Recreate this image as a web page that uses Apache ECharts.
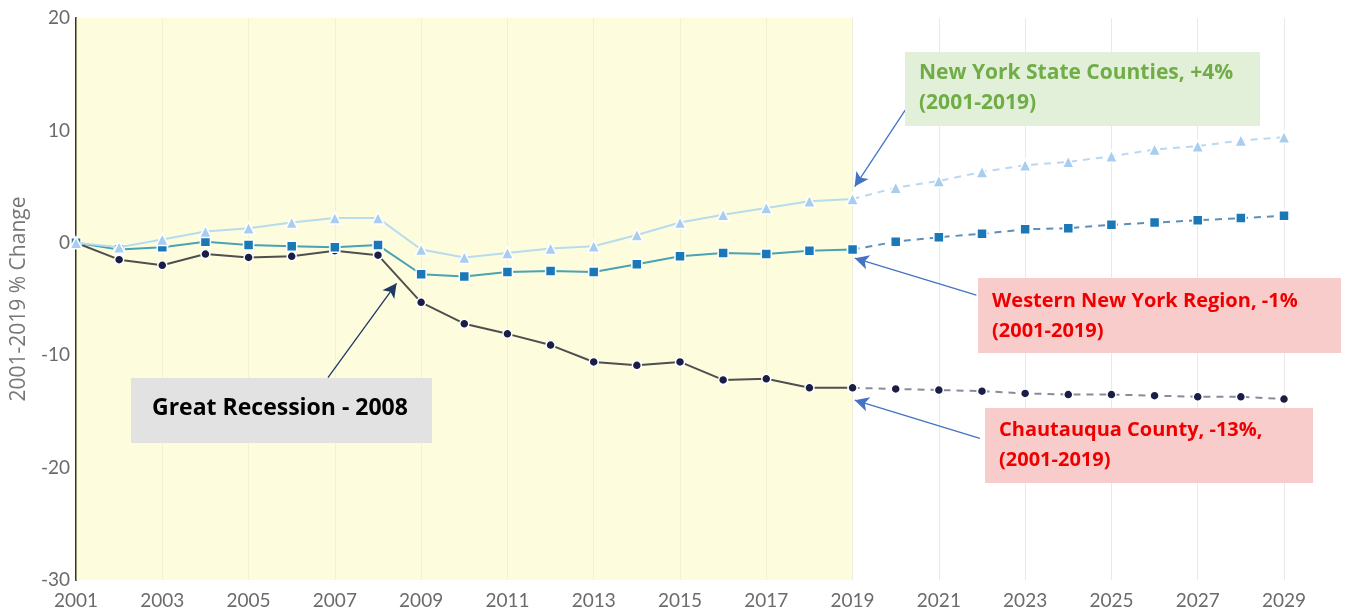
<!DOCTYPE html>
<html>
<head>
<meta charset="utf-8">
<script src="https://cdn.jsdelivr.net/npm/echarts@6/dist/echarts.min.js"></script>
<style>
    html, body {margin: 0; padding: 0; background: #fff;}
    #main {width: 1348px; height: 613px;}
</style>
</head>
<body>
<div id="main"></div>
<script>
    // years
    const histYears = [2001, 2002, 2003, 2004, 2005, 2006, 2007, 2008, 2009, 2010,
        2011, 2012, 2013, 2014, 2015, 2016, 2017, 2018, 2019];
    const projYears = [2020, 2021, 2022, 2023, 2024, 2025, 2026, 2027, 2028, 2029];

    // % change since 2001
    const chautauquaHist = [0, -1.5, -2.0, -1.0, -1.3, -1.2, -0.7, -1.1, -5.3, -7.2,
        -8.1, -9.1, -10.6, -10.9, -10.6, -12.2, -12.1, -12.9, -12.9];
    const chautauquaProj = [-13.0, -13.1, -13.2, -13.4, -13.5, -13.5, -13.6, -13.7, -13.7, -13.9];

    const wnyHist = [0, -0.6, -0.4, 0.1, -0.2, -0.3, -0.4, -0.2, -2.8, -3.0,
        -2.6, -2.5, -2.6, -1.9, -1.2, -0.9, -1.0, -0.7, -0.6];
    const wnyProj = [0.1, 0.5, 0.8, 1.2, 1.3, 1.6, 1.8, 2.0, 2.2, 2.4];

    const nysHist = [0, -0.4, 0.3, 1.0, 1.3, 1.8, 2.2, 2.2, -0.6, -1.3,
        -0.9, -0.5, -0.3, 0.7, 1.8, 2.5, 3.1, 3.7, 3.9];
    const nysProj = [4.9, 5.5, 6.3, 6.9, 7.2, 7.7, 8.3, 8.6, 9.1, 9.4];

    const pairs = (xs, ys) => xs.map((x, i) => [x, ys[i]]);
    // projection line starts from the last actual point
    const proj = (hx, hy, px, py) => [[hx[hx.length - 1], hy[hy.length - 1]]].concat(pairs(px, py));

    const chart = echarts.init(document.getElementById('main'));
    const axisFont = 'Lato, sans-serif';
    const noteFont = '"Open Sans", sans-serif';

    const arrow = (from, to, color) => [
        {coord: from, symbol: 'none', lineStyle: {color: color, width: 1.3, type: 'solid'}},
        {coord: to, symbol: 'arrow'}
    ];

    const note = (left, top, w, h, fill, color, text, size, pad) => ({
        type: 'group',
        left: left,
        top: top,
        z: 100,
        children: [
            {type: 'rect', z: 100, shape: {x: 0, y: 0, width: w, height: h}, style: {fill: fill}},
            {
                type: 'text', z: 101, x: pad[0], y: pad[1],
                style: {
                    text: text, fill: color, fontFamily: noteFont, fontWeight: 'bold',
                    fontSize: size, lineHeight: 30
                }
            }
        ]
    });

    const option = {
        animation: false,
        grid: {left: 76, right: 64, top: 18, bottom: 33, outerBoundsMode: 'none'},
        xAxis: {
            type: 'value',
            min: 2001,
            max: 2029,
            interval: 2,
            axisLine: {show: false},
            axisTick: {show: false},
            axisLabel: {
                color: '#6b6b6b', fontFamily: axisFont, fontSize: 19, margin: 11,
                formatter: v => String(v)
            },
            splitLine: {show: true, lineStyle: {color: '#e9e9e9', width: 1}}
        },
        yAxis: {
            type: 'value',
            min: -30,
            max: 20,
            interval: 10,
            name: '2001-2019 % Change',
            nameLocation: 'middle',
            nameGap: 46,
            nameTextStyle: {color: '#777', fontFamily: '"Open Sans", sans-serif', fontSize: 21},
            axisLine: {show: true, lineStyle: {color: '#333', width: 2}},
            axisTick: {show: false},
            axisLabel: {color: '#6b6b6b', fontFamily: axisFont, fontSize: 19, margin: 6},
            splitLine: {show: false}
        },
        series: [
            {
                name: 'band',
                type: 'line',
                data: [],
                silent: true,
                markArea: {
                    silent: true,
                    itemStyle: {color: 'rgba(252,252,190,0.5)'},
                    data: [[{xAxis: 2001}, {xAxis: 2019}]]
                },
                markLine: {
                    silent: true,
                    symbolSize: [11, 14],
                    label: {show: false},
                    data: [
                        arrow([2006.84, -12.0], [2008.43, -3.6], '#1f3864'),
                        arrow([2020.22, 11.8], [2019.05, 5.0], '#4472c4'),
                        arrow([2021.87, -4.65], [2019.05, -1.37], '#4472c4'),
                        arrow([2021.95, -17.4], [2019.05, -14.0], '#4472c4')
                    ]
                }
            },
            {
                name: 'Chautauqua County',
                type: 'line',
                data: pairs(histYears, chautauquaHist),
                symbol: 'circle', symbolSize: 9,
                lineStyle: {color: '#4f4f4f', width: 2},
                itemStyle: {color: '#1a1d45', borderColor: '#fff', borderWidth: 1.5},
                z: 3
            },
            {
                name: 'Chautauqua County proj',
                type: 'line',
                data: proj(histYears, chautauquaHist, projYears, chautauquaProj),
                symbol: 'circle', symbolSize: 9,
                lineStyle: {color: '#8a8a9a', width: 2, type: [7, 6]},
                itemStyle: {color: '#1a1d45', borderColor: '#fff', borderWidth: 1.5},
                z: 3
            },
            {
                name: 'Western New York Region',
                type: 'line',
                data: pairs(histYears, wnyHist),
                symbol: 'rect', symbolSize: 10,
                lineStyle: {color: '#4aa2b3', width: 2},
                itemStyle: {color: '#1b78b6', borderColor: '#fff', borderWidth: 1.5},
                z: 4
            },
            {
                name: 'Western New York Region proj',
                type: 'line',
                data: proj(histYears, wnyHist, projYears, wnyProj),
                symbol: 'rect', symbolSize: 10,
                lineStyle: {color: '#5d8fb8', width: 2, type: [7, 6]},
                itemStyle: {color: '#1b78b6', borderColor: '#fff', borderWidth: 1.5},
                z: 4
            },
            {
                name: 'New York State Counties',
                type: 'line',
                data: pairs(histYears, nysHist),
                symbol: 'triangle', symbolSize: 12,
                lineStyle: {color: '#b7dcee', width: 2},
                itemStyle: {color: '#a8cdef', borderColor: '#fff', borderWidth: 1.5},
                z: 5
            },
            {
                name: 'New York State Counties proj',
                type: 'line',
                data: proj(histYears, nysHist, projYears, nysProj),
                symbol: 'triangle', symbolSize: 12,
                lineStyle: {color: '#b9d8f2', width: 2, type: [7, 6]},
                itemStyle: {color: '#a8cdef', borderColor: '#fff', borderWidth: 1.5},
                z: 5
            }
        ],
        graphic: [
            note(131, 378, 301, 65, '#e2e2e2', '#000', 'Great Recession - 2008', 23, [21, 15]),
            note(905, 52, 355, 74, '#e2efd9', '#70ad47', 'New York State Counties, +4%\n(2001-2019)', 21, [14, 6]),
            note(978, 278, 363, 75, '#f9cccc', '#ee0000', 'Western New York Region, -1%\n(2001-2019)', 20, [14, 8]),
            note(985, 408, 328, 75, '#f9cccc', '#ee0000', 'Chautauqua County, -13%,\n(2001-2019)', 20, [14, 7])
        ]
    };

    option && chart.setOption(option);
</script>
</body>
</html>
